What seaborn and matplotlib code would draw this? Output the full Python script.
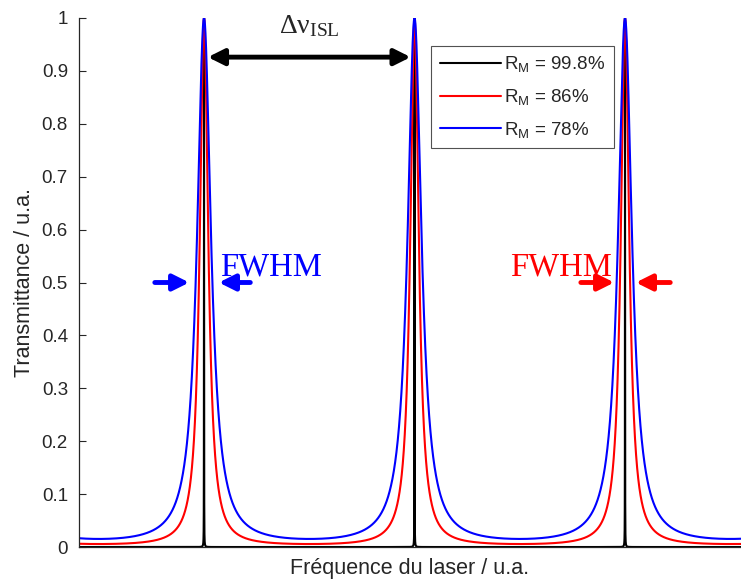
import numpy as np
import pandas as pd
import seaborn as sns
import matplotlib
matplotlib.use('Agg')
import matplotlib.pyplot as plt

# reflectivites des miroirs (legende)
reflectivites = [0.998, 0.86, 0.78]
labels = ['R$_\\mathregular{M}$ = 99.8%', 'R$_\\mathregular{M}$ = 86%', 'R$_\\mathregular{M}$ = 78%']
couleurs = ['black', 'red', 'blue']

# frequence en unites d'ISL (pics a 0, 1, 2)
freq_min, freq_max = -0.594, 2.551

sns.set_style('ticks')
plt.rcParams['font.family'] = ['Liberation Sans', 'DejaVu Sans']
plt.rcParams['mathtext.default'] = 'regular'

# transmission d'Airy du Fabry-Perot
nu = np.linspace(-0.6, 2.6, 160001)
frames = []
for r, lab in zip(reflectivites, labels):
    coef = 4 * r / (1 - r) ** 2
    t = 1 / (1 + coef * np.sin(np.pi * nu) ** 2)
    frames.append(pd.DataFrame({'nu': nu, 'T': t, 'R': lab}))
df = pd.concat(frames, ignore_index=True)

fig = plt.figure(figsize=(7.41, 5.82), dpi=100)
ax = fig.add_axes([0.1066, 0.0601, 0.8934, 0.909])
sns.lineplot(data=df, x='nu', y='T', hue='R', palette=couleurs, hue_order=labels,
             estimator=None, sort=False, linewidth=1.5, ax=ax)

ax.set_xlim(freq_min, freq_max)
ax.set_ylim(0, 1)
ax.set_xticks([])
ax.set_yticks(np.arange(0, 1.01, 0.1))
ax.set_yticklabels(['0', '0.1', '0.2', '0.3', '0.4', '0.5', '0.6', '0.7', '0.8', '0.9', '1'])
ax.tick_params(axis='y', direction='in', length=4.8, width=0.8, labelsize=13.5,
               colors='#262626', pad=8)
ax.set_xlabel('Fréquence du laser / u.a.', fontsize=15.5, color='#262626', labelpad=8)
ax.set_ylabel('Transmittance / u.a.', fontsize=15.5, color='#262626', labelpad=5)
sns.despine(ax=ax)
for s in ['left', 'bottom']:
    ax.spines[s].set_color('#262626')
    ax.spines[s].set_linewidth(0.9)

leg = ax.legend(loc='upper left', bbox_to_anchor=(0.532, 0.947), borderaxespad=0,
                fontsize=13.5, frameon=True, fancybox=False, edgecolor='#262626',
                handlelength=3.25, handletextpad=0.2, labelspacing=0.68, borderpad=0.45,
                title=None)
leg.get_frame().set_linewidth(0.8)

# ISL
ax.annotate('', xy=(0.995, 0.926), xytext=(0.005, 0.926),
            arrowprops=dict(arrowstyle='<|-|>', color='black', lw=3.5, mutation_scale=24))
ax.text(0.499, 0.972, 'Δν$_\\mathregular{ISL}$', family='Liberation Serif', fontsize=20,
        ha='center', va='baseline')

# FWHM bleu
ax.annotate('', xy=(-0.057, 0.5), xytext=(-0.247, 0.5),
            arrowprops=dict(arrowstyle='-|>', color='blue', lw=3.5, mutation_scale=24))
ax.annotate('', xy=(0.057, 0.5), xytext=(0.233, 0.5),
            arrowprops=dict(arrowstyle='-|>', color='blue', lw=3.5, mutation_scale=24))
ax.text(0.076, 0.514, 'FWHM', family='Liberation Serif', fontsize=23.5, color='blue',
        ha='left', va='baseline')

# FWHM rouge
ax.annotate('', xy=(1.962, 0.5), xytext=(1.777, 0.5),
            arrowprops=dict(arrowstyle='-|>', color='red', lw=3.5, mutation_scale=24))
ax.annotate('', xy=(2.038, 0.5), xytext=(2.228, 0.5),
            arrowprops=dict(arrowstyle='-|>', color='red', lw=3.5, mutation_scale=24))
ax.text(1.454, 0.514, 'FWHM', family='Liberation Serif', fontsize=23.5, color='red',
        ha='left', va='baseline')

fig.savefig('out.png', dpi=100)
